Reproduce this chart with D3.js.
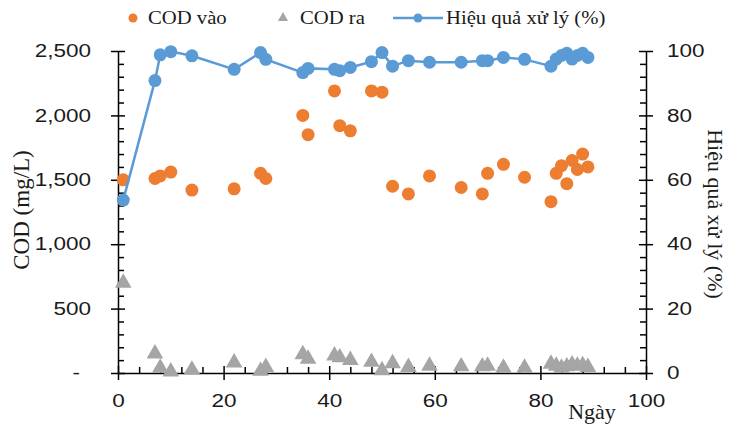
<!DOCTYPE html>
<html lang="vi">

<head>
  <meta charset="UTF-8">
  <title>COD va hieu qua xu ly</title>
  <style>
    body { margin: 0; background: #fff; }
    svg { display: block; font-family: "Liberation Serif", "Times New Roman", serif; }
    .axis path, .axis line { stroke: #000; stroke-width: 1.5; }
    .axis text { font-size: 18px; fill: #1a1a1a; }
  </style>
</head>

<body>
  <svg id="chart"></svg>
  <script src="https://cdn.jsdelivr.net/npm/d3@7/dist/d3.min.js"></script>
  <script>
    // ngay lay mau
    var days = [1, 7, 8, 10, 14, 22, 27, 28, 35, 36, 41, 42, 44, 48, 50, 52, 55, 59, 65, 69, 70, 73, 77, 82, 83, 84, 85, 86, 87, 88, 89];
    // COD vao (mg/L)
    var codIn = [1500, 1510, 1530, 1560, 1420, 1430, 1550, 1510, 2000, 1850, 2190, 1920, 1880, 2190, 2180, 1450, 1390, 1530, 1440, 1390, 1550, 1620, 1520, 1330, 1550, 1610, 1470, 1650, 1580, 1700, 1600];
    // COD ra (mg/L)
    var codOut = [700, 150, 40, 10, 25, 80, 15, 45, 145, 110, 135, 120, 100, 85, 20, 75, 45, 55, 50, 50, 55, 40, 40, 70, 55, 40, 50, 65, 55, 60, 45];
    // hieu qua xu ly (%)
    var efficiency = [53.7, 90.8, 98.8, 99.8, 98.5, 94.3, 99.5, 97.4, 93.3, 94.6, 94.3, 93.9, 94.9, 96.7, 99.5, 95.3, 97.0, 96.5, 96.5, 97.0, 97.0, 98.0, 97.4, 95.3, 97.5, 98.6, 99.3, 97.5, 98.6, 99.3, 98.0];

    var xTicks = [0, 20, 40, 60, 80, 100];
    var leftTicks = [0, 500, 1000, 1500, 2000, 2500];
    var rightTicks = [0, 20, 40, 60, 80, 100];

    var svgWidth = 732, svgHeight = 426;
    var textScale = 1.25;

    var svg = d3.select('#chart')
      .attr('width', svgWidth)
      .attr('height', svgHeight);

    var x = d3.scaleLinear().domain([0, 100]).range([118, 646]);
    var yLeft = d3.scaleLinear().domain([0, 2500]).range([373, 51]);
    var yRight = d3.scaleLinear().domain([0, 100]).range([373, 51]);

    var comma = d3.format(",");

    // minor ticks
    var xMinor = d3.range(0, 101, 4).filter(d => d % 20 !== 0);
    var leftMinor = d3.range(0, 2501, 100).filter(d => d % 500 !== 0);
    var rightMinor = d3.range(0, 101, 4).filter(d => d % 20 !== 0);

    function stretch(sel, k) {
      sel.each(function () {
        var t = d3.select(this);
        var xx = +t.attr("x") || 0;
        t.attr("x", xx / k).attr("transform", "scale(" + k + ",1)");
      });
    }

    // left axis
    var gLeft = svg.append("g").attr("class", "axis")
      .attr("transform", "translate(118,0)");
    gLeft.append("g")
      .call(d3.axisLeft(yLeft).tickValues(leftMinor).tickSize(-6).tickSizeOuter(0).tickFormat(""))
      .select(".domain").remove();
    gLeft.append("g")
      .call(d3.axisLeft(yLeft).tickValues(leftTicks).tickSize(7).tickSizeOuter(0)
        .tickFormat(d => d === 0 ? "-" : comma(d)));
    gLeft.selectAll(".tick line").filter(function () { return +d3.select(this).attr("x2") < 0; })
      .attr("x1", 7);
    gLeft.selectAll(".tick text").attr("x", -27);
    gLeft.selectAll(".tick text").filter(d => d === 0).attr("x", -38);
    stretch(gLeft.selectAll(".tick text"), textScale);

    // right axis
    var gRight = svg.append("g").attr("class", "axis")
      .attr("transform", "translate(646,0)");
    gRight.append("g")
      .call(d3.axisRight(yRight).tickValues(rightMinor).tickSize(-6).tickSizeOuter(0).tickFormat(""))
      .select(".domain").remove();
    gRight.append("g")
      .call(d3.axisRight(yRight).tickValues(rightTicks).tickSize(7).tickSizeOuter(0));
    gRight.selectAll(".tick line").filter(function () { return +d3.select(this).attr("x2") > 0; })
      .attr("x1", -7);
    gRight.selectAll(".tick text").attr("x", 21);
    stretch(gRight.selectAll(".tick text"), textScale);

    // bottom axis
    var gBottom = svg.append("g").attr("class", "axis")
      .attr("transform", "translate(0,373)");
    gBottom.append("g")
      .call(d3.axisBottom(x).tickValues(xMinor).tickSize(-6).tickSizeOuter(0).tickFormat(""))
      .select(".domain").remove();
    gBottom.append("g")
      .call(d3.axisBottom(x).tickValues(xTicks).tickSize(7).tickSizeOuter(0));
    gBottom.selectAll(".tick line").filter(function () { return +d3.select(this).attr("y2") > 0; })
      .attr("y1", -7);
    gBottom.selectAll(".tick text").attr("y", 21);
    stretch(gBottom.selectAll(".tick text"), textScale);

    // axis titles
    svg.append("text")
      .attr("transform", "translate(29,210) rotate(-90)")
      .attr("text-anchor", "middle")
      .style("font-size", "23px").attr("fill", "#1a1a1a")
      .text("COD (mg/L)");
    svg.append("text")
      .attr("transform", "translate(708,214) rotate(90)")
      .attr("text-anchor", "middle")
      .style("font-size", "22px").attr("fill", "#1a1a1a")
      .text("Hiệu quả xử lý (%)");
    svg.append("text")
      .attr("x", 592).attr("y", 419)
      .attr("text-anchor", "middle")
      .style("font-size", "22px").attr("fill", "#1a1a1a")
      .text("Ngày");

    // COD vao
    svg.append("g").selectAll("circle")
      .data(days)
      .enter()
      .append("circle")
      .attr("cx", d => x(d))
      .attr("cy", (d, i) => yLeft(codIn[i]))
      .attr("r", 6.5)
      .attr("fill", "#ED7D31");

    // COD ra
    var tri = d3.symbol().type(d3.symbolTriangle).size(120);
    svg.append("g").selectAll("path")
      .data(days)
      .enter()
      .append("path")
      .attr("d", tri)
      .attr("transform", (d, i) => "translate(" + x(d) + "," + yLeft(codOut[i]) + ")")
      .attr("fill", "#A5A5A5");

    // hieu qua xu ly
    var line = d3.line()
      .x(d => x(d))
      .y((d, i) => yRight(efficiency[i]));
    svg.append("path")
      .datum(days)
      .attr("d", line)
      .attr("fill", "none")
      .attr("stroke", "#5B9BD5")
      .attr("stroke-width", 2.5);
    svg.append("g").selectAll("circle")
      .data(days)
      .enter()
      .append("circle")
      .attr("cx", d => x(d))
      .attr("cy", (d, i) => yRight(efficiency[i]))
      .attr("r", 6.5)
      .attr("fill", "#5B9BD5");

    // legend
    var legend = svg.append("g").style("font-size", "18px");
    legend.append("circle").attr("cx", 133).attr("cy", 18).attr("r", 4.5).attr("fill", "#ED7D31");
    legend.append("text").attr("x", 148).attr("y", 24).attr("fill", "#1a1a1a").text("COD vào");
    legend.append("path").attr("d", d3.symbol().type(d3.symbolTriangle).size(45))
      .attr("transform", "translate(283,18)").attr("fill", "#A5A5A5");
    legend.append("text").attr("x", 300).attr("y", 24).attr("fill", "#1a1a1a").text("COD ra");
    legend.append("line").attr("x1", 393).attr("x2", 443).attr("y1", 18).attr("y2", 18)
      .attr("stroke", "#5B9BD5").attr("stroke-width", 2.5);
    legend.append("circle").attr("cx", 418).attr("cy", 18).attr("r", 4.5).attr("fill", "#5B9BD5");
    legend.append("text").attr("x", 446).attr("y", 24).attr("fill", "#1a1a1a").text("Hiệu quả xử lý (%)");
    stretch(legend.selectAll("text"), 1.15);
  </script>
</body>

</html>
